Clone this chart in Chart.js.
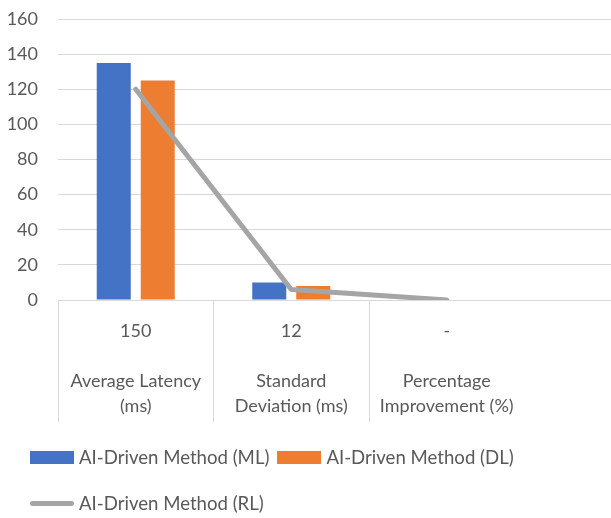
<!DOCTYPE html>
<html>
<head>
<meta charset="utf-8">
<script src="https://cdn.jsdelivr.net/npm/chart.js@4.4.1/dist/chart.umd.min.js"></script>
<style>
  html, body { margin: 0; padding: 0; background: #fff; overflow: hidden; }
  #wrap { position: relative; width: 611px; height: 518px; overflow: hidden; }
  #box { position: absolute; left: 0; top: 0; width: 700px; height: 518px; }
  #legend-container { position: absolute; left: 30px; top: 438px; width: 530px; }
  #legend-container ul { list-style: none; margin: 0; padding: 0; display: flex; flex-wrap: wrap; }
  #legend-container li { display: flex; align-items: center; height: 38px; margin-right: 8px; margin-bottom: 8px;
    font: 18.6px Lato, sans-serif; color: #595959; white-space: nowrap; }
</style>
</head>
<body>
<div id="wrap">
  <div id="box"><canvas id="myChart"></canvas></div>
  <div id="legend-container"></div>
</div>
<script>
// values
const topLabels = ["150", "12", "-", ""];
const categories = [
  ["Average Latency", "(ms)"],
  ["Standard", "Deviation (ms)"],
  ["Percentage", "Improvement (%)"],
  [""],
];
const mlValues = [135, 10, 0, null];
const dlValues = [125, 8, 0, null];
const rlValues = [120, 6, 0, null];
const yTicks = [0, 20, 40, 60, 80, 100, 120, 140, 160];

const textColor = "#595959";
const gridColor = "#d9d9d9";

const labels = topLabels.map((t, i) => [t, ""].concat(categories[i]));

const ctx = document.getElementById("myChart");

const data = {
  labels: labels,
  datasets: [
    {
      type: "line",
      label: "AI-Driven Method (RL)",
      data: rlValues,
      borderColor: "#a5a5a5",
      backgroundColor: "#a5a5a5",
      borderWidth: 5,
      pointRadius: 0,
      borderCapStyle: "round",
      borderJoinStyle: "round",
      tension: 0,
      order: 0,
    },
    {
      type: "bar",
      label: "AI-Driven Method (ML)",
      data: mlValues,
      backgroundColor: "#4472c4",
      categoryPercentage: 0.566,
      barPercentage: 0.773,
      order: 1,
    },
    {
      type: "bar",
      label: "AI-Driven Method (DL)",
      data: dlValues,
      backgroundColor: "#ed7d31",
      categoryPercentage: 0.566,
      barPercentage: 0.773,
      order: 1,
    },
  ],
};

// html legend, Excel order: bars first then the line
const htmlLegend = {
  id: "htmlLegend",
  afterUpdate(chart, args, options) {
    const holder = document.getElementById(options.containerID);
    holder.innerHTML = "";
    const ul = document.createElement("ul");
    [1, 2, 0].forEach((i) => {
      const ds = chart.data.datasets[i];
      const li = document.createElement("li");
      const sw = document.createElement("span");
      sw.style.display = "inline-block";
      sw.style.width = "44px";
      sw.style.marginRight = "5px";
      if (ds.type === "line") {
        sw.style.height = "5px";
        sw.style.borderRadius = "3px";
      } else {
        sw.style.height = "13px";
      }
      sw.style.background = ds.backgroundColor;
      li.appendChild(sw);
      li.appendChild(document.createTextNode(ds.label));
      ul.appendChild(li);
    });
    holder.appendChild(ul);
  },
};

const myChart = new Chart(ctx, {
  data: data,
  options: {
    responsive: true,
    maintainAspectRatio: false,
    animation: false,
    events: [],
    layout: { padding: { top: 19, right: 20, bottom: 96, left: 0 } },
    plugins: {
      legend: { display: false },
      tooltip: { enabled: false },
      htmlLegend: { containerID: "legend-container" },
    },
    scales: {
      x: {
        offset: true,
        grid: {
          offset: true,
          drawOnChartArea: false,
          drawTicks: true,
          tickLength: 122,
          color: (c) => (c.index <= 2 ? gridColor : "rgba(0,0,0,0)"),
          lineWidth: 1,
        },
        border: { display: true, color: gridColor, width: 1 },
        ticks: {
          padding: -103,
          maxRotation: 0,
          autoSkip: false,
          color: textColor,
          font: { family: "Lato", size: 18, lineHeight: "25px" },
        },
        afterFit(scale) { scale.height = 122; },
      },
      y: {
        min: 0,
        max: 160,
        afterBuildTicks(scale) { scale.ticks = yTicks.map((v) => ({ value: v })); },
        grid: { color: gridColor, drawTicks: true, tickLength: 20, tickColor: "rgba(0,0,0,0)", lineWidth: 1 },
        border: { display: false },
        ticks: {
          padding: 0,
          color: textColor,
          font: { family: "Lato", size: 18 },
        },
        afterFit(scale) { scale.width = 58; },
      },
    },
  },
  plugins: [htmlLegend],
});
</script>
</body>
</html>
